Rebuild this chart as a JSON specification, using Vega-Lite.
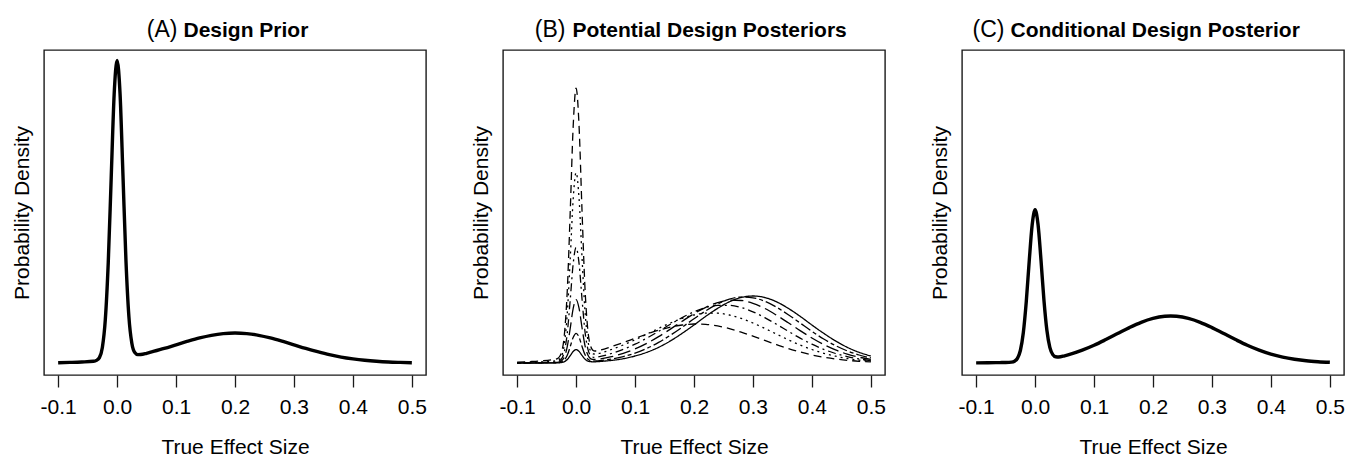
{
  "$schema": "https://vega.github.io/schema/vega-lite/v6.json",
  "background": "white",
  "padding": {"left": 10, "top": 17, "right": 2, "bottom": 0},
  "bounds": "flush",
  "spacing": 77,
  "config": {
    "font": "Liberation Sans",
    "view": {"stroke": "#1a1a1a", "strokeWidth": 1.4},
    "axis": {"grid": false, "domain": false, "titleFontWeight": "normal", "titleColor": "black", "labelColor": "black", "tickColor": "#1a1a1a"}
  },
  "datasets": {
    "prior": [
      {"x": -0.1, "density": 0.3}, {"x": -0.08, "density": 0.6}, {"x": -0.06, "density": 1.0}, {"x": -0.04, "density": 1.7},
      {"x": -0.035, "density": 2.6}, {"x": -0.03, "density": 5.4}, {"x": -0.025, "density": 15.6}, {"x": -0.02, "density": 43.3},
      {"x": -0.015, "density": 100.4}, {"x": -0.01, "density": 185.3}, {"x": -0.005, "density": 268.5}, {"x": 0, "density": 302.5},
      {"x": 0.005, "density": 269.3}, {"x": 0.01, "density": 186.9}, {"x": 0.015, "density": 102.8}, {"x": 0.02, "density": 46.5},
      {"x": 0.025, "density": 19.7}, {"x": 0.03, "density": 10.4}, {"x": 0.035, "density": 8.4}, {"x": 0.04, "density": 8.5},
      {"x": 0.05, "density": 9.7}, {"x": 0.06, "density": 11.3}, {"x": 0.08, "density": 14.6}, {"x": 0.1, "density": 18.2},
      {"x": 0.12, "density": 21.8}, {"x": 0.14, "density": 25.1}, {"x": 0.16, "density": 27.7}, {"x": 0.18, "density": 29.4},
      {"x": 0.2, "density": 30.0}, {"x": 0.22, "density": 29.4}, {"x": 0.24, "density": 27.7}, {"x": 0.26, "density": 25.1},
      {"x": 0.28, "density": 21.8}, {"x": 0.3, "density": 18.2}, {"x": 0.32, "density": 14.6}, {"x": 0.34, "density": 11.3},
      {"x": 0.36, "density": 8.3}, {"x": 0.38, "density": 5.9}, {"x": 0.4, "density": 4.1}, {"x": 0.42, "density": 2.7},
      {"x": 0.44, "density": 1.7}, {"x": 0.46, "density": 1.0}, {"x": 0.48, "density": 0.6}, {"x": 0.5, "density": 0.3}
    ],
    "conditional": [
      {"x": -0.1, "density": 0.1}, {"x": -0.08, "density": 0.2}, {"x": -0.06, "density": 0.4}, {"x": -0.05, "density": 0.5},
      {"x": -0.04, "density": 0.9}, {"x": -0.035, "density": 1.8}, {"x": -0.03, "density": 4.6}, {"x": -0.025, "density": 12.5},
      {"x": -0.02, "density": 30.3}, {"x": -0.015, "density": 61.1}, {"x": -0.01, "density": 101.7}, {"x": -0.005, "density": 138.0},
      {"x": 0, "density": 153.2}, {"x": 0.005, "density": 138.5}, {"x": 0.01, "density": 102.9}, {"x": 0.015, "density": 62.9},
      {"x": 0.02, "density": 32.7}, {"x": 0.025, "density": 15.6}, {"x": 0.03, "density": 8.4}, {"x": 0.035, "density": 6.2},
      {"x": 0.04, "density": 6.0}, {"x": 0.05, "density": 7.2}, {"x": 0.06, "density": 8.8}, {"x": 0.08, "density": 12.8},
      {"x": 0.1, "density": 17.7}, {"x": 0.12, "density": 23.4}, {"x": 0.14, "density": 29.4}, {"x": 0.16, "density": 35.4},
      {"x": 0.18, "density": 40.7}, {"x": 0.2, "density": 44.6}, {"x": 0.22, "density": 46.7}, {"x": 0.23, "density": 47.0},
      {"x": 0.24, "density": 46.7}, {"x": 0.26, "density": 44.6}, {"x": 0.28, "density": 40.7}, {"x": 0.3, "density": 35.4},
      {"x": 0.32, "density": 29.4}, {"x": 0.34, "density": 23.4}, {"x": 0.36, "density": 17.7}, {"x": 0.38, "density": 12.8},
      {"x": 0.4, "density": 8.8}, {"x": 0.42, "density": 5.8}, {"x": 0.44, "density": 3.7}, {"x": 0.46, "density": 2.2},
      {"x": 0.48, "density": 1.3}, {"x": 0.5, "density": 0.7}
    ],
    "posteriors": [
      {"curve": "solid", "x": -0.1, "density": 0}, {"curve": "solid", "x": -0.08, "density": 0}, {"curve": "solid", "x": -0.06, "density": 0}, {"curve": "solid", "x": -0.04, "density": 0.1},
      {"curve": "solid", "x": -0.035, "density": 0.1}, {"curve": "solid", "x": -0.03, "density": 0.2}, {"curve": "solid", "x": -0.025, "density": 0.5}, {"curve": "solid", "x": -0.02, "density": 1.3},
      {"curve": "solid", "x": -0.015, "density": 3.5}, {"curve": "solid", "x": -0.01, "density": 7.3}, {"curve": "solid", "x": -0.005, "density": 11.5}, {"curve": "solid", "x": 0, "density": 13.4},
      {"curve": "solid", "x": 0.005, "density": 11.6}, {"curve": "solid", "x": 0.01, "density": 7.6}, {"curve": "solid", "x": 0.015, "density": 3.9}, {"curve": "solid", "x": 0.02, "density": 1.9},
      {"curve": "solid", "x": 0.025, "density": 1.3}, {"curve": "solid", "x": 0.03, "density": 1.15}, {"curve": "solid", "x": 0.035, "density": 1.3}, {"curve": "solid", "x": 0.04, "density": 1.5},
      {"curve": "solid", "x": 0.06, "density": 2.6}, {"curve": "solid", "x": 0.08, "density": 4.3}, {"curve": "solid", "x": 0.1, "density": 7.0}, {"curve": "solid", "x": 0.12, "density": 10.7},
      {"curve": "solid", "x": 0.14, "density": 15.7}, {"curve": "solid", "x": 0.16, "density": 22.1}, {"curve": "solid", "x": 0.18, "density": 29.7}, {"curve": "solid", "x": 0.2, "density": 38.0},
      {"curve": "solid", "x": 0.22, "density": 46.7}, {"curve": "solid", "x": 0.24, "density": 54.6}, {"curve": "solid", "x": 0.26, "density": 61.2}, {"curve": "solid", "x": 0.28, "density": 65.5},
      {"curve": "solid", "x": 0.3, "density": 67.0}, {"curve": "solid", "x": 0.32, "density": 65.5}, {"curve": "solid", "x": 0.34, "density": 61.2}, {"curve": "solid", "x": 0.36, "density": 54.6},
      {"curve": "solid", "x": 0.38, "density": 46.7}, {"curve": "solid", "x": 0.4, "density": 38.0}, {"curve": "solid", "x": 0.42, "density": 29.7}, {"curve": "solid", "x": 0.44, "density": 22.1},
      {"curve": "solid", "x": 0.46, "density": 15.7}, {"curve": "solid", "x": 0.48, "density": 10.7}, {"curve": "solid", "x": 0.5, "density": 7.0},

      {"curve": "twodash", "x": -0.1, "density": 0}, {"curve": "twodash", "x": -0.08, "density": 0}, {"curve": "twodash", "x": -0.06, "density": 0.1}, {"curve": "twodash", "x": -0.04, "density": 0.2},
      {"curve": "twodash", "x": -0.035, "density": 0.25}, {"curve": "twodash", "x": -0.03, "density": 0.4}, {"curve": "twodash", "x": -0.025, "density": 0.95}, {"curve": "twodash", "x": -0.02, "density": 2.9},
      {"curve": "twodash", "x": -0.015, "density": 7.7}, {"curve": "twodash", "x": -0.01, "density": 16.3}, {"curve": "twodash", "x": -0.005, "density": 25.5}, {"curve": "twodash", "x": 0, "density": 29.7},
      {"curve": "twodash", "x": 0.005, "density": 25.8}, {"curve": "twodash", "x": 0.01, "density": 16.7}, {"curve": "twodash", "x": 0.015, "density": 8.4}, {"curve": "twodash", "x": 0.02, "density": 3.9},
      {"curve": "twodash", "x": 0.025, "density": 2.2}, {"curve": "twodash", "x": 0.03, "density": 1.9}, {"curve": "twodash", "x": 0.035, "density": 2.1}, {"curve": "twodash", "x": 0.04, "density": 2.4},
      {"curve": "twodash", "x": 0.06, "density": 4.0}, {"curve": "twodash", "x": 0.08, "density": 6.4}, {"curve": "twodash", "x": 0.1, "density": 9.9}, {"curve": "twodash", "x": 0.12, "density": 14.6},
      {"curve": "twodash", "x": 0.14, "density": 20.6}, {"curve": "twodash", "x": 0.16, "density": 27.8}, {"curve": "twodash", "x": 0.18, "density": 35.8}, {"curve": "twodash", "x": 0.2, "density": 44.2},
      {"curve": "twodash", "x": 0.22, "density": 52.2}, {"curve": "twodash", "x": 0.24, "density": 59.0}, {"curve": "twodash", "x": 0.26, "density": 63.8}, {"curve": "twodash", "x": 0.28, "density": 65.9},
      {"curve": "twodash", "x": 0.3, "density": 65.2}, {"curve": "twodash", "x": 0.32, "density": 61.7}, {"curve": "twodash", "x": 0.34, "density": 55.8}, {"curve": "twodash", "x": 0.36, "density": 48.3},
      {"curve": "twodash", "x": 0.38, "density": 40.0}, {"curve": "twodash", "x": 0.4, "density": 31.7}, {"curve": "twodash", "x": 0.42, "density": 24.0}, {"curve": "twodash", "x": 0.44, "density": 17.4},
      {"curve": "twodash", "x": 0.46, "density": 12.1}, {"curve": "twodash", "x": 0.48, "density": 8.0}, {"curve": "twodash", "x": 0.5, "density": 5.1},

      {"curve": "longdash", "x": -0.1, "density": 0}, {"curve": "longdash", "x": -0.08, "density": 0.1}, {"curve": "longdash", "x": -0.06, "density": 0.2}, {"curve": "longdash", "x": -0.04, "density": 0.4},
      {"curve": "longdash", "x": -0.035, "density": 0.5}, {"curve": "longdash", "x": -0.03, "density": 0.84}, {"curve": "longdash", "x": -0.025, "density": 2.0}, {"curve": "longdash", "x": -0.02, "density": 6.1},
      {"curve": "longdash", "x": -0.015, "density": 16.4}, {"curve": "longdash", "x": -0.01, "density": 34.6}, {"curve": "longdash", "x": -0.005, "density": 54.4}, {"curve": "longdash", "x": 0, "density": 63.4},
      {"curve": "longdash", "x": 0.005, "density": 54.8}, {"curve": "longdash", "x": 0.01, "density": 35.5}, {"curve": "longdash", "x": 0.015, "density": 17.7}, {"curve": "longdash", "x": 0.02, "density": 7.9},
      {"curve": "longdash", "x": 0.025, "density": 4.2}, {"curve": "longdash", "x": 0.03, "density": 3.5}, {"curve": "longdash", "x": 0.035, "density": 3.6}, {"curve": "longdash", "x": 0.04, "density": 4.0},
      {"curve": "longdash", "x": 0.06, "density": 6.3}, {"curve": "longdash", "x": 0.08, "density": 9.6}, {"curve": "longdash", "x": 0.1, "density": 14.1}, {"curve": "longdash", "x": 0.12, "density": 19.7},
      {"curve": "longdash", "x": 0.14, "density": 26.4}, {"curve": "longdash", "x": 0.16, "density": 33.9}, {"curve": "longdash", "x": 0.18, "density": 41.8}, {"curve": "longdash", "x": 0.2, "density": 49.3},
      {"curve": "longdash", "x": 0.22, "density": 55.7}, {"curve": "longdash", "x": 0.24, "density": 60.4}, {"curve": "longdash", "x": 0.26, "density": 62.8}, {"curve": "longdash", "x": 0.28, "density": 62.5},
      {"curve": "longdash", "x": 0.3, "density": 59.7}, {"curve": "longdash", "x": 0.32, "density": 54.6}, {"curve": "longdash", "x": 0.34, "density": 47.8}, {"curve": "longdash", "x": 0.36, "density": 40.2},
      {"curve": "longdash", "x": 0.38, "density": 32.4}, {"curve": "longdash", "x": 0.4, "density": 25.0}, {"curve": "longdash", "x": 0.42, "density": 18.5}, {"curve": "longdash", "x": 0.44, "density": 13.1},
      {"curve": "longdash", "x": 0.46, "density": 8.9}, {"curve": "longdash", "x": 0.48, "density": 5.8}, {"curve": "longdash", "x": 0.5, "density": 3.6},

      {"curve": "dotdash", "x": -0.1, "density": 0.1}, {"curve": "dotdash", "x": -0.08, "density": 0.3}, {"curve": "dotdash", "x": -0.06, "density": 0.5}, {"curve": "dotdash", "x": -0.04, "density": 0.9},
      {"curve": "dotdash", "x": -0.035, "density": 1.1}, {"curve": "dotdash", "x": -0.03, "density": 1.6}, {"curve": "dotdash", "x": -0.025, "density": 3.8}, {"curve": "dotdash", "x": -0.02, "density": 11.1},
      {"curve": "dotdash", "x": -0.015, "density": 29.8}, {"curve": "dotdash", "x": -0.01, "density": 62.9}, {"curve": "dotdash", "x": -0.005, "density": 99.0}, {"curve": "dotdash", "x": 0, "density": 115.5},
      {"curve": "dotdash", "x": 0.005, "density": 99.7}, {"curve": "dotdash", "x": 0.01, "density": 64.3}, {"curve": "dotdash", "x": 0.015, "density": 31.9}, {"curve": "dotdash", "x": 0.02, "density": 13.9},
      {"curve": "dotdash", "x": 0.025, "density": 7.2}, {"curve": "dotdash", "x": 0.03, "density": 5.7}, {"curve": "dotdash", "x": 0.035, "density": 5.9}, {"curve": "dotdash", "x": 0.04, "density": 6.4},
      {"curve": "dotdash", "x": 0.06, "density": 9.5}, {"curve": "dotdash", "x": 0.08, "density": 13.7}, {"curve": "dotdash", "x": 0.1, "density": 18.8}, {"curve": "dotdash", "x": 0.12, "density": 24.9},
      {"curve": "dotdash", "x": 0.14, "density": 31.7}, {"curve": "dotdash", "x": 0.16, "density": 38.7}, {"curve": "dotdash", "x": 0.18, "density": 45.4}, {"curve": "dotdash", "x": 0.2, "density": 51.2},
      {"curve": "dotdash", "x": 0.22, "density": 55.5}, {"curve": "dotdash", "x": 0.24, "density": 57.7}, {"curve": "dotdash", "x": 0.26, "density": 57.7}, {"curve": "dotdash", "x": 0.28, "density": 55.5},
      {"curve": "dotdash", "x": 0.3, "density": 51.2}, {"curve": "dotdash", "x": 0.32, "density": 45.4}, {"curve": "dotdash", "x": 0.34, "density": 38.7}, {"curve": "dotdash", "x": 0.36, "density": 31.7},
      {"curve": "dotdash", "x": 0.38, "density": 24.9}, {"curve": "dotdash", "x": 0.4, "density": 18.8}, {"curve": "dotdash", "x": 0.42, "density": 13.7}, {"curve": "dotdash", "x": 0.44, "density": 9.5},
      {"curve": "dotdash", "x": 0.46, "density": 6.4}, {"curve": "dotdash", "x": 0.48, "density": 4.1}, {"curve": "dotdash", "x": 0.5, "density": 2.5},

      {"curve": "dotted", "x": -0.1, "density": 0.4}, {"curve": "dotted", "x": -0.08, "density": 0.6}, {"curve": "dotted", "x": -0.06, "density": 1.1}, {"curve": "dotted", "x": -0.04, "density": 1.8},
      {"curve": "dotted", "x": -0.035, "density": 2.1}, {"curve": "dotted", "x": -0.03, "density": 3.0}, {"curve": "dotted", "x": -0.025, "density": 6.4}, {"curve": "dotted", "x": -0.02, "density": 18.6},
      {"curve": "dotted", "x": -0.015, "density": 49.4}, {"curve": "dotted", "x": -0.01, "density": 103.9}, {"curve": "dotted", "x": -0.005, "density": 163.4}, {"curve": "dotted", "x": 0, "density": 190.5},
      {"curve": "dotted", "x": 0.005, "density": 164.5}, {"curve": "dotted", "x": 0.01, "density": 106.1}, {"curve": "dotted", "x": 0.015, "density": 52.6}, {"curve": "dotted", "x": 0.02, "density": 22.7},
      {"curve": "dotted", "x": 0.025, "density": 11.5}, {"curve": "dotted", "x": 0.03, "density": 9.0}, {"curve": "dotted", "x": 0.035, "density": 9.1}, {"curve": "dotted", "x": 0.04, "density": 9.7},
      {"curve": "dotted", "x": 0.06, "density": 13.5}, {"curve": "dotted", "x": 0.08, "density": 18.0}, {"curve": "dotted", "x": 0.1, "density": 23.2}, {"curve": "dotted", "x": 0.12, "density": 28.9},
      {"curve": "dotted", "x": 0.14, "density": 34.6}, {"curve": "dotted", "x": 0.16, "density": 40.0}, {"curve": "dotted", "x": 0.18, "density": 44.6}, {"curve": "dotted", "x": 0.2, "density": 48.0},
      {"curve": "dotted", "x": 0.22, "density": 49.8}, {"curve": "dotted", "x": 0.24, "density": 49.8}, {"curve": "dotted", "x": 0.26, "density": 48.0}, {"curve": "dotted", "x": 0.28, "density": 44.6},
      {"curve": "dotted", "x": 0.3, "density": 40.0}, {"curve": "dotted", "x": 0.32, "density": 34.6}, {"curve": "dotted", "x": 0.34, "density": 28.9}, {"curve": "dotted", "x": 0.36, "density": 23.2},
      {"curve": "dotted", "x": 0.38, "density": 18.0}, {"curve": "dotted", "x": 0.4, "density": 13.5}, {"curve": "dotted", "x": 0.42, "density": 9.7}, {"curve": "dotted", "x": 0.44, "density": 6.8},
      {"curve": "dotted", "x": 0.46, "density": 4.5}, {"curve": "dotted", "x": 0.48, "density": 2.9}, {"curve": "dotted", "x": 0.5, "density": 1.8},

      {"curve": "dashed", "x": -0.1, "density": 0.8}, {"curve": "dashed", "x": -0.08, "density": 1.4}, {"curve": "dashed", "x": -0.06, "density": 2.1}, {"curve": "dashed", "x": -0.04, "density": 3.3},
      {"curve": "dashed", "x": -0.035, "density": 3.8}, {"curve": "dashed", "x": -0.03, "density": 5.1}, {"curve": "dashed", "x": -0.025, "density": 10.2}, {"curve": "dashed", "x": -0.02, "density": 27.6},
      {"curve": "dashed", "x": -0.015, "density": 72.1}, {"curve": "dashed", "x": -0.01, "density": 150.5}, {"curve": "dashed", "x": -0.005, "density": 236.0}, {"curve": "dashed", "x": 0, "density": 274.9},
      {"curve": "dashed", "x": 0.005, "density": 237.3}, {"curve": "dashed", "x": 0.01, "density": 153.0}, {"curve": "dashed", "x": 0.015, "density": 75.7}, {"curve": "dashed", "x": 0.02, "density": 32.4},
      {"curve": "dashed", "x": 0.025, "density": 16.2}, {"curve": "dashed", "x": 0.03, "density": 12.2}, {"curve": "dashed", "x": 0.035, "density": 12.0}, {"curve": "dashed", "x": 0.04, "density": 12.7},
      {"curve": "dashed", "x": 0.06, "density": 16.4}, {"curve": "dashed", "x": 0.08, "density": 20.4}, {"curve": "dashed", "x": 0.1, "density": 24.7}, {"curve": "dashed", "x": 0.12, "density": 28.9},
      {"curve": "dashed", "x": 0.14, "density": 32.8}, {"curve": "dashed", "x": 0.16, "density": 35.9}, {"curve": "dashed", "x": 0.18, "density": 38.0}, {"curve": "dashed", "x": 0.2, "density": 39.0},
      {"curve": "dashed", "x": 0.22, "density": 38.6}, {"curve": "dashed", "x": 0.24, "density": 37.1}, {"curve": "dashed", "x": 0.26, "density": 34.4}, {"curve": "dashed", "x": 0.28, "density": 30.9},
      {"curve": "dashed", "x": 0.3, "density": 26.9}, {"curve": "dashed", "x": 0.32, "density": 22.6}, {"curve": "dashed", "x": 0.34, "density": 18.4}, {"curve": "dashed", "x": 0.36, "density": 14.4},
      {"curve": "dashed", "x": 0.38, "density": 11.0}, {"curve": "dashed", "x": 0.4, "density": 8.1}, {"curve": "dashed", "x": 0.42, "density": 5.8}, {"curve": "dashed", "x": 0.44, "density": 4.0},
      {"curve": "dashed", "x": 0.46, "density": 2.7}, {"curve": "dashed", "x": 0.48, "density": 1.7}, {"curve": "dashed", "x": 0.5, "density": 1.1}
    ]
  },
  "hconcat": [
    {
      "width": 382, "height": 325,
      "data": {"name": "prior"},
      "layer": [
        {
          "mark": {"type": "line", "interpolate": "monotone", "strokeWidth": 3.4, "color": "black"},
          "encoding": {
            "x": {"field": "x", "type": "quantitative", "scale": {"domain": [-0.124, 0.524], "nice": false, "zero": false},
                  "axis": {"values": [-0.1, 0, 0.1, 0.2, 0.3, 0.4, 0.5], "labelExpr": "replace(format(datum.value, '.1f'), '−', '-')", "labelFontSize": 21, "tickSize": 12, "tickWidth": 1.3, "labelPadding": 9, "labelFlush": false, "labelOverlap": false, "title": "True Effect Size", "titleFontSize": 21, "titlePadding": 19}},
            "y": {"field": "density", "type": "quantitative", "scale": {"domain": [-12, 313], "nice": false, "zero": false},
                  "axis": {"title": "Probability Density", "labels": false, "ticks": false, "titleFontSize": 21, "titlePadding": 12}}
          }
        },
        {
          "mark": {"type": "line", "strokeOpacity": 0},
          "encoding": {
            "x": {"field": "x", "type": "quantitative", "axis": {"orient": "top", "labels": false, "ticks": false, "domain": false, "title": "(A)", "titleFontWeight": "normal", "titleFontSize": 23, "titleX": 133, "titleY": -14, "titleAlign": "right", "titleBaseline": "alphabetic"}},
            "y": {"field": "density", "type": "quantitative"}
          }
        },
        {
          "mark": {"type": "line", "strokeOpacity": 0},
          "encoding": {
            "x": {"field": "x", "type": "quantitative", "axis": {"orient": "top", "labels": false, "ticks": false, "domain": false, "title": "Design Prior", "titleFontWeight": "bold", "titleFontSize": 21, "titleX": 139, "titleY": -14, "titleAlign": "left", "titleBaseline": "alphabetic"}},
            "y": {"field": "density", "type": "quantitative"}
          }
        }
      ],
      "resolve": {"axis": {"x": "independent"}}
    },
    {
      "width": 382, "height": 325,
      "data": {"name": "posteriors"},
      "layer": [
        {
          "mark": {"type": "line", "interpolate": "monotone", "strokeWidth": 1.3, "color": "black"},
          "encoding": {
            "x": {"field": "x", "type": "quantitative", "scale": {"domain": [-0.124, 0.524], "nice": false, "zero": false},
                  "axis": {"values": [-0.1, 0, 0.1, 0.2, 0.3, 0.4, 0.5], "labelExpr": "replace(format(datum.value, '.1f'), '−', '-')", "labelFontSize": 21, "tickSize": 12, "tickWidth": 1.3, "labelPadding": 9, "labelFlush": false, "labelOverlap": false, "title": "True Effect Size", "titleFontSize": 21, "titlePadding": 19}},
            "y": {"field": "density", "type": "quantitative", "scale": {"domain": [-12, 313], "nice": false, "zero": false},
                  "axis": {"title": "Probability Density", "labels": false, "ticks": false, "titleFontSize": 21, "titlePadding": 12}},
            "strokeDash": {"field": "curve", "type": "nominal",
                  "scale": {"domain": ["solid", "twodash", "longdash", "dotdash", "dotted", "dashed"], "range": [[1, 0], [4, 3, 11, 3], [13, 5], [2, 4, 8, 4], [2, 4], [8, 5]]},
                  "legend": null}
          }
        },
        {
          "mark": {"type": "line", "strokeOpacity": 0},
          "encoding": {
            "x": {"field": "x", "type": "quantitative", "axis": {"orient": "top", "labels": false, "ticks": false, "domain": false, "title": "(B)", "titleFontWeight": "normal", "titleFontSize": 23, "titleX": 62, "titleY": -14, "titleAlign": "right", "titleBaseline": "alphabetic"}},
            "y": {"field": "density", "type": "quantitative"},
            "detail": {"field": "curve", "type": "nominal"}
          }
        },
        {
          "mark": {"type": "line", "strokeOpacity": 0},
          "encoding": {
            "x": {"field": "x", "type": "quantitative", "axis": {"orient": "top", "labels": false, "ticks": false, "domain": false, "title": "Potential Design Posteriors", "titleFontWeight": "bold", "titleFontSize": 21, "titleX": 69, "titleY": -14, "titleAlign": "left", "titleBaseline": "alphabetic"}},
            "y": {"field": "density", "type": "quantitative"},
            "detail": {"field": "curve", "type": "nominal"}
          }
        }
      ],
      "resolve": {"axis": {"x": "independent"}}
    },
    {
      "width": 382, "height": 325,
      "data": {"name": "conditional"},
      "layer": [
        {
          "mark": {"type": "line", "interpolate": "monotone", "strokeWidth": 3.4, "color": "black"},
          "encoding": {
            "x": {"field": "x", "type": "quantitative", "scale": {"domain": [-0.124, 0.524], "nice": false, "zero": false},
                  "axis": {"values": [-0.1, 0, 0.1, 0.2, 0.3, 0.4, 0.5], "labelExpr": "replace(format(datum.value, '.1f'), '−', '-')", "labelFontSize": 21, "tickSize": 12, "tickWidth": 1.3, "labelPadding": 9, "labelFlush": false, "labelOverlap": false, "title": "True Effect Size", "titleFontSize": 21, "titlePadding": 19}},
            "y": {"field": "density", "type": "quantitative", "scale": {"domain": [-12, 313], "nice": false, "zero": false},
                  "axis": {"title": "Probability Density", "labels": false, "ticks": false, "titleFontSize": 21, "titlePadding": 12}}
          }
        },
        {
          "mark": {"type": "line", "strokeOpacity": 0},
          "encoding": {
            "x": {"field": "x", "type": "quantitative", "axis": {"orient": "top", "labels": false, "ticks": false, "domain": false, "title": "(C)", "titleFontWeight": "normal", "titleFontSize": 23, "titleX": 42, "titleY": -14, "titleAlign": "right", "titleBaseline": "alphabetic"}},
            "y": {"field": "density", "type": "quantitative"}
          }
        },
        {
          "mark": {"type": "line", "strokeOpacity": 0},
          "encoding": {
            "x": {"field": "x", "type": "quantitative", "axis": {"orient": "top", "labels": false, "ticks": false, "domain": false, "title": "Conditional Design Posterior", "titleFontWeight": "bold", "titleFontSize": 21, "titleX": 48, "titleY": -14, "titleAlign": "left", "titleBaseline": "alphabetic"}},
            "y": {"field": "density", "type": "quantitative"}
          }
        }
      ],
      "resolve": {"axis": {"x": "independent"}}
    }
  ]
}
